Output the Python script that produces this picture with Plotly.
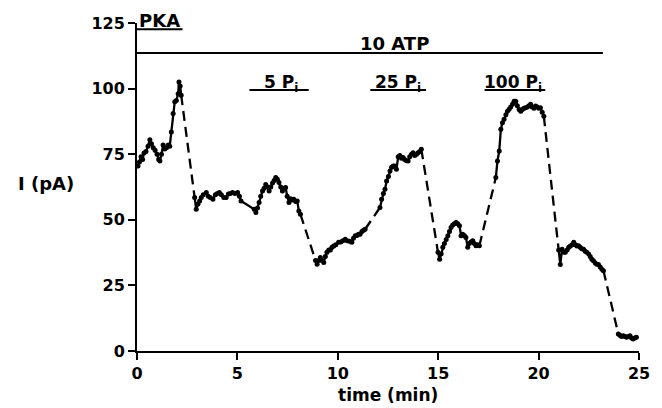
import plotly.graph_objects as go

# ---- data (time in min, current in pA) ----
seg1_t = [0.05, 0.12, 0.2, 0.28, 0.35, 0.45, 0.55, 0.64, 0.72, 0.81, 0.9, 1.0, 1.08, 1.14, 1.22, 1.30, 1.38, 1.47, 1.55, 1.63, 1.71, 1.80, 1.88, 1.96, 2.05, 2.09, 2.15, 2.2]
seg1_i = [70.5, 72, 74, 73, 75.5, 76, 78, 80.5, 79, 77.5, 76.5, 75, 73, 72.4, 75, 78.5, 77, 77.5, 78.5, 78, 83.5, 90.5, 95, 95.5, 98, 102.5, 101, 97.5]

seg2_t = [2.87, 2.95, 3.04, 3.12, 3.2, 3.3, 3.45, 3.55, 3.65, 3.78, 3.9, 4.0, 4.1, 4.2, 4.32, 4.44, 4.55, 4.65, 4.76, 4.88, 5.01, 5.1, 5.18, 5.84, 5.92, 6.0, 6.08, 6.16, 6.25, 6.33, 6.41, 6.5, 6.58, 6.66, 6.75, 6.83, 6.91, 6.99, 7.07, 7.16, 7.24, 7.32, 7.40, 7.48, 7.57, 7.65, 7.73, 7.81, 7.9, 7.98, 8.06, 8.14]
seg2_i = [58.5, 54, 56, 57.2, 58.5, 59.5, 60.4, 59, 58.5, 57.8, 59.5, 60, 60.4, 59.5, 58.5, 58.5, 59.8, 60, 60.4, 60, 60.4, 59, 57.2, 54, 52.8, 54.5, 56.6, 59, 61, 62, 63.5, 62.5, 61, 62.5, 64, 65, 66.1, 65.5, 64.2, 62.5, 61, 62, 62.3, 59, 56.6, 58, 57.5, 57.8, 57, 57.2, 53.4, 52.1]

seg3_t = [8.89, 8.97, 9.05, 9.13, 9.22, 9.30, 9.38, 9.46, 9.55, 9.63, 9.71, 9.8, 9.9, 10.04, 10.15, 10.25, 10.37, 10.47, 10.58, 10.70, 10.78, 10.87, 10.95, 11.03, 11.11, 11.2, 11.28, 11.36]
seg3_i = [34.5, 33.1, 34.5, 35.6, 34.5, 33.7, 36, 37.6, 38.5, 38.5, 39.5, 40, 40.5, 41.4, 41.5, 42, 42.6, 42, 41.8, 41.4, 43, 43.9, 44, 44.5, 44.5, 45.5, 46, 46.4]

seg4_t = [12.10, 12.18, 12.27, 12.35, 12.43, 12.52, 12.60, 12.68, 12.76, 12.84, 12.92, 13.01, 13.09, 13.17, 13.25, 13.33, 13.42, 13.50, 13.58, 13.67, 13.75, 13.83, 13.92, 14.00, 14.08, 14.16]
seg4_i = [54.7, 57.8, 60, 61.6, 64.8, 66.5, 68.6, 70, 70.5, 70.5, 69.3, 74, 74.5, 73.5, 73.7, 73, 72.5, 72.4, 74, 75, 75.6, 74.5, 75, 75.6, 76, 76.9]

seg5_t = [14.99, 15.07, 15.15, 15.23, 15.31, 15.40, 15.48, 15.56, 15.64, 15.72, 15.80, 15.89, 15.97, 16.06, 16.14, 16.22, 16.30, 16.38, 16.47, 16.55, 16.63, 16.72, 16.80, 16.88, 16.96, 17.05]
seg5_i = [37.6, 35.0, 37, 39.5, 41, 42.5, 43.9, 45.5, 47.1, 48, 48.5, 49, 48.5, 47.7, 43.9, 44.5, 44, 43.3, 39.5, 41, 41.5, 42, 41, 40.1, 40.5, 40.1]

seg6_t = [17.87, 17.95, 18.04, 18.12, 18.20, 18.28, 18.37, 18.45, 18.53, 18.61, 18.70, 18.78, 18.86, 18.94, 19.03, 19.11, 19.19, 19.27, 19.35, 19.44, 19.52, 19.60, 19.68, 19.77, 19.85, 19.93, 20.01, 20.09, 20.18, 20.26]
seg6_i = [66.1, 72.4, 76.2, 84.5, 87, 88.3, 90, 91.4, 92.1, 93, 94, 95.2, 95.2, 93.5, 92, 91.4, 92, 92.5, 92.7, 93, 93.5, 94, 93, 92.5, 93.4, 93, 92.5, 92.7, 91, 89.5]

seg7_t = [21.0, 21.08, 21.17, 21.25, 21.33, 21.42, 21.50, 21.58, 21.67, 21.75, 21.83, 21.91, 21.99, 22.07, 22.15, 22.24, 22.32, 22.40, 22.49, 22.57, 22.65, 22.73, 22.82, 22.90, 22.98, 23.07, 23.15, 23.23]
seg7_i = [38.5, 33, 38.8, 37.6, 37.6, 38.5, 39.5, 40, 40.5, 41.4, 40.5, 40, 40.1, 39.5, 39, 38.8, 38, 37.6, 37, 36, 35, 34.4, 33.5, 33.1, 33, 32, 31.2, 30.6]

seg8_t = [23.97, 24.05, 24.13, 24.22, 24.30, 24.38, 24.46, 24.55, 24.63, 24.71, 24.79, 24.87]
seg8_i = [6.5, 6, 5.5, 5.8, 5.5, 5.2, 5.5, 5.8, 5.0, 4.6, 5.0, 5.2]

segments = [(seg1_t, seg1_i), (seg2_t, seg2_i), (seg3_t, seg3_i), (seg4_t, seg4_i),
            (seg5_t, seg5_i), (seg6_t, seg6_i), (seg7_t, seg7_i), (seg8_t, seg8_i)]

# solution-application bars: label, start (min), end (min), level (pA)
bar_labels = ["PKA", "10 ATP", "5 P<sub>i</sub>", "25 P<sub>i</sub>", "100 P<sub>i</sub>"]
bar_start = [0.0, 0.0, 5.6, 11.62, 17.31]
bar_end = [2.27, 23.2, 8.55, 14.39, 20.33]
bar_level = [122.6, 113.6, 99.5, 99.5, 99.5]
label_x = [1.13, 12.8, 7.15, 13.0, 18.7]
label_y = [126.0, 117.0, 102.0, 102.0, 102.0]
label_size = [18, 18, 17, 17, 17]

x_ticks = [0, 5, 10, 15, 20, 25]
y_ticks = [0, 25, 50, 75, 100, 125]

FONT = "DejaVu Sans"
Y_MAX = 125

fig = go.Figure()

# dashed connectors between recorded segments
for (ta, ia), (tb, ib) in zip(segments[:-1], segments[1:]):
    fig.add_trace(go.Scatter(x=[ta[-1], tb[0]], y=[ia[-1], ib[0]], mode="lines",
                             line=dict(color="black", width=2.3, dash="10px,6px"),
                             hoverinfo="skip", showlegend=False))

for t, i in segments:
    fig.add_trace(go.Scatter(x=t, y=i, mode="lines+markers",
                             line=dict(color="black", width=2.3),
                             marker=dict(color="black", size=5),
                             showlegend=False))

for lab, s, e, lv, lx, ly, fs in zip(bar_labels, bar_start, bar_end, bar_level, label_x, label_y, label_size):
    fig.add_shape(type="line", xref="x", yref="y", x0=s, x1=e, y0=lv, y1=lv,
                  line=dict(color="black", width=2))
    if ly <= Y_MAX:
        fig.add_annotation(x=lx, y=ly, xref="x", yref="y", text=lab, showarrow=False,
                           xanchor="center", yanchor="middle",
                           font=dict(family=FONT, size=fs, color="black", weight="bold"))
    else:
        fig.add_annotation(x=lx, y=ly / Y_MAX, xref="x", yref="paper", text=lab, showarrow=False,
                           xanchor="center", yanchor="middle",
                           font=dict(family=FONT, size=fs, color="black", weight="bold"))

fig.add_annotation(x=-0.182, y=64, xref="paper", yref="y", text="I (pA)", showarrow=False,
                   xanchor="center", yanchor="middle",
                   font=dict(family=FONT, size=18, color="black", weight="bold"))
fig.add_annotation(x=12.5, y=-0.134, xref="x", yref="paper", text="time (min)", showarrow=False,
                   xanchor="center", yanchor="middle",
                   font=dict(family=FONT, size=17, color="black", weight="bold"))

axis_common = dict(showgrid=False, zeroline=False, showline=True, linecolor="black", linewidth=2,
                   ticks="outside", ticklen=7, tickwidth=2, tickcolor="black",
                   tickfont=dict(family=FONT, size=16, color="black", weight="bold"))

fig.update_xaxes(range=[0, 25], tickvals=x_ticks, **axis_common)
fig.update_yaxes(range=[0, Y_MAX], tickvals=y_ticks, **axis_common)

fig.update_layout(width=662, height=408, margin=dict(l=137, r=20, t=23, b=57),
                  plot_bgcolor="white", paper_bgcolor="white", showlegend=False)

# remove the default page-body margin so the figure fills the window exactly
fig.write_html("out.html", config={"displayModeBar": False},
               post_script="document.body.style.margin='0';document.body.style.overflow='hidden';")
